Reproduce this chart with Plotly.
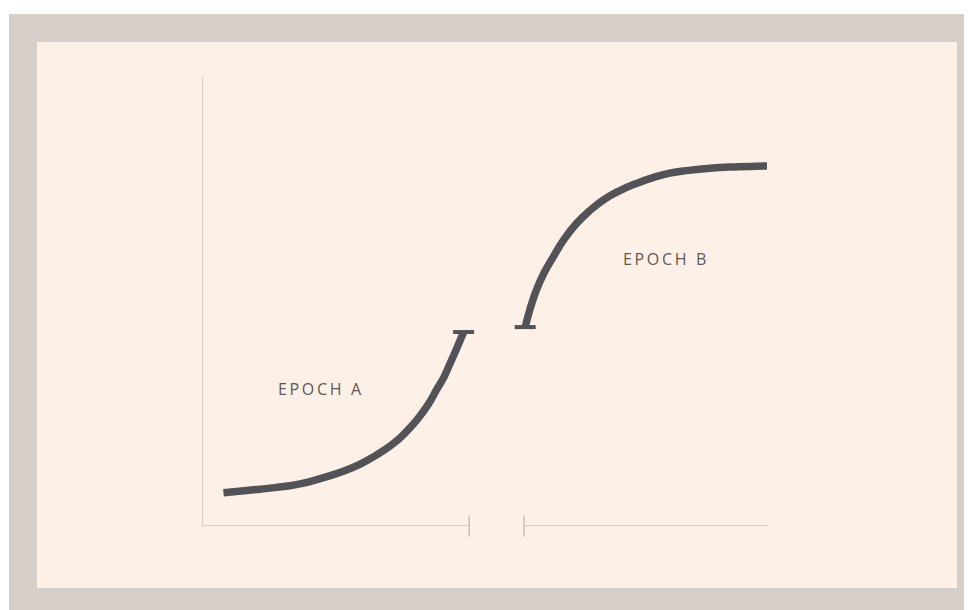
import plotly.graph_objects as go

# ---- data ----
epoch_a_x = [3.8, 7.0, 10.3, 13.2, 16.2, 19.1, 22.1, 25.0, 28.0, 31.0, 33.9, 36.0, 38.0, 39.9, 41.5, 42.8, 43.9, 45.1, 46.3]
epoch_a_y = [7.4, 7.8, 8.2, 8.6, 9.1, 9.9, 11.0, 12.2, 13.8, 15.9, 18.4, 20.8, 23.6, 26.8, 30.3, 33.1, 36.2, 39.6, 43.2]
epoch_b_x = [57.2, 58.1, 59.2, 60.6, 62.2, 64.1, 66.3, 68.6, 71.0, 73.8, 76.9, 79.8, 82.8, 86.2, 89.9, 94.9, 100.0]
epoch_b_y = [44.3, 48.5, 52.6, 56.5, 60.0, 63.9, 67.4, 70.2, 72.6, 74.6, 76.3, 77.6, 78.6, 79.2, 79.7, 80.0, 80.2]
break_x = [47.3, 57.0]          # axis break positions
labels = ["EPOCH A", "EPOCH B"]
label_x = [20.9, 81.8]
label_y = [30.6, 59.4]
x_range = [0, 100]
y_range = [0, 100]

CURVE = "#525257"
AXIS = "#c8beb6"
TEXT = "#5f5853"
BORDER = "#d6cec8"
PANEL = "#fcf0e7"

SP = "\u2006"
def tracked(s):
    return SP.join(list(s))

fig = go.Figure()

# axis lines with break
fig.add_trace(go.Scatter(x=[x_range[0], x_range[0], break_x[0]], y=[y_range[1], y_range[0], y_range[0]],
                         mode="lines", line=dict(color=AXIS, width=1.5), hoverinfo="skip", cliponaxis=False))
fig.add_trace(go.Scatter(x=[break_x[1], x_range[1]], y=[y_range[0], y_range[0]],
                         mode="lines", line=dict(color=AXIS, width=1.5), hoverinfo="skip", cliponaxis=False))
fig.add_trace(go.Scatter(x=break_x, y=[y_range[0]] * 2, mode="markers",
                         marker=dict(symbol="line-ns-open", size=15, color=AXIS, line=dict(color=AXIS, width=1.5)),
                         hoverinfo="skip", cliponaxis=False))

# curves
fig.add_trace(go.Scatter(x=epoch_a_x, y=epoch_a_y, mode="lines",
                         line=dict(color=CURVE, width=7.5, shape="spline", smoothing=1.3), cliponaxis=False))
fig.add_trace(go.Scatter(x=epoch_b_x, y=epoch_b_y, mode="lines",
                         line=dict(color=CURVE, width=7.5, shape="spline", smoothing=1.3), cliponaxis=False))
# end caps at the break
fig.add_trace(go.Scatter(x=[epoch_a_x[-1], epoch_b_x[0]], y=[epoch_a_y[-1], epoch_b_y[0]], mode="markers",
                         marker=dict(symbol="line-ew-open", size=15, color=CURVE, line=dict(color=CURVE, width=4)),
                         cliponaxis=False))

for t, lx, ly in zip(labels, label_x, label_y):
    fig.add_annotation(x=lx, y=ly, text=tracked(t), showarrow=False,
                       font=dict(family="Open Sans", size=16, color=TEXT))

# page body has an 8px margin, so figure coords = screen coords - 8
OFF = 8
W, H = 964, 602
L, T = 202 - OFF, 77 - OFF
R = W - (767 - OFF)
B = H - (526 - OFF)
pw, ph = W - L - R, H - T - B
def px(v): return (v - OFF - L) / pw
def py(v): return (H - B - (v - OFF)) / ph

fig.add_shape(type="rect", xref="paper", yref="paper", layer="below",
              x0=px(9), x1=px(972), y0=py(610), y1=py(14), fillcolor=BORDER, line_width=0)
fig.add_shape(type="rect", xref="paper", yref="paper", layer="below",
              x0=px(37), x1=px(957), y0=py(588), y1=py(42), fillcolor=PANEL, line_width=0)

fig.update_layout(width=W, height=H, margin=dict(l=L, r=R, t=T, b=B),
                  paper_bgcolor="white", plot_bgcolor="rgba(0,0,0,0)", showlegend=False,
                  xaxis=dict(range=x_range, visible=False, fixedrange=True),
                  yaxis=dict(range=y_range, visible=False, fixedrange=True))

fig.write_html("out.html")
